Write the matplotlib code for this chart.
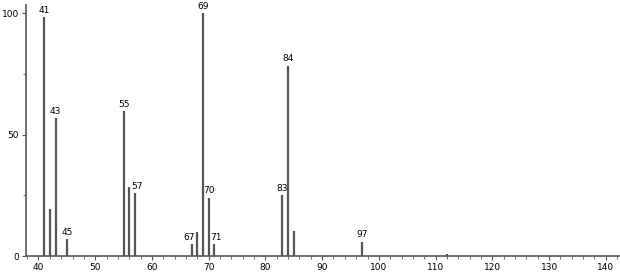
import numpy as np
import matplotlib.pyplot as plt
from matplotlib.ticker import MultipleLocator

# m/z and relative intensity
mz = [41, 42, 43, 45, 55, 56, 57, 67, 68, 69, 70, 71, 83, 84, 85, 97, 112]
intensity = [98.3, 19.2, 56.7, 6.9, 59.5, 28.3, 25.8, 4.8, 10.0, 100.0, 24.0, 4.9, 25.1, 78.3, 10.4, 5.9, 0.7]

# peaks that get a text label
labelled = [41, 43, 45, 55, 57, 67, 69, 70, 71, 83, 84, 97]
label_dx = {57: 0.4, 67: -0.4, 71: 0.3}  # small nudges as in the original

fig = plt.figure(figsize=(6.2, 2.73), dpi=100)
ax = fig.add_axes([26 / 620, 17 / 273, 1 - 26 / 620, 251 / 273])

ax.vlines(mz, 0, intensity, color='#555555', lw=1.6)

for m, v in zip(mz, intensity):
    if m in labelled:
        ax.text(m + label_dx.get(m, 0), v + 1.0, str(m), ha='center', va='bottom',
                fontsize=6.5, color='black')

ax.set_xlim(37.8, 142.5)
ax.set_ylim(0, 103.3)

ax.xaxis.set_major_locator(MultipleLocator(10))
ax.xaxis.set_minor_locator(MultipleLocator(2))
ax.yaxis.set_major_locator(MultipleLocator(50))
ax.yaxis.set_minor_locator(MultipleLocator(25))

ax.spines['top'].set_visible(False)
ax.spines['right'].set_visible(False)
ax.spines['left'].set_color('#555555')
ax.spines['bottom'].set_color('#555555')
ax.spines['left'].set_linewidth(1.2)
ax.spines['bottom'].set_linewidth(1.2)

ax.tick_params(axis='both', which='major', labelsize=6.5, length=3, width=0.8, color='#555555', pad=2)
ax.tick_params(axis='both', which='minor', length=2, width=0.6, color='#555555')

fig.savefig('out.png', dpi=100)
